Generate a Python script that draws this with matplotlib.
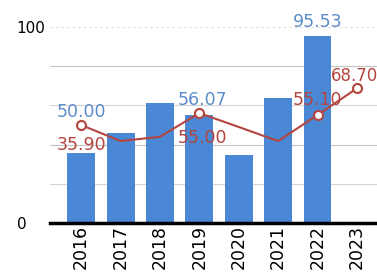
import matplotlib
matplotlib.use("Agg")
import matplotlib.pyplot as plt

years = ["2016", "2017", "2018", "2019", "2020", "2021", "2022", "2023"]
bar_values = [35.90, 45.9, 61.2, 55.00, 34.7, 63.8, 95.53, None]
line_values = [50.00, 41.8, 44.0, 56.07, 49.0, 41.8, 55.10, 68.70]
marker_idx = [0, 3, 6, 7]

# labels as printed: (index, text, colour key)
labels = [
    (0, "50.00", "blue"), (0, "35.90", "red"),
    (3, "56.07", "blue"), (3, "55.00", "red"),
    (6, "95.53", "blue"), (6, "55.10", "red"),
    (7, "68.70", "red"),
]

BAR = "#4a87d4"
BLUE_TXT = "#5b8ccc"
RED = "#b4453f"

W, H, DPI = 377, 274, 100
fig = plt.figure(figsize=(W / DPI, H / DPI), dpi=DPI)
left, right = 50 / W, 1.0
bottom = (H - 223) / H
top = (H - 3.5) / H
ax = fig.add_axes([left, bottom, right - left, top - bottom])

xs = list(range(len(years)))
for i, v in enumerate(bar_values):
    if v is not None:
        ax.bar(i, v, width=0.71, color=BAR, zorder=2)

ax.plot(xs, line_values, color=RED, lw=1.5, zorder=3)
ax.plot([xs[i] for i in marker_idx], [line_values[i] for i in marker_idx],
        ls="none", marker="o", ms=6.5, mfc="white", mec=RED, mew=1.5, zorder=4)

ax.set_xlim(-0.79, 7.51)
ax.set_ylim(0, 112)

for g, c in [(20, "#d4d4d4"), (40, "#c4c4c4"), (60, "#d4d4d4"), (80, "#c4c4c4")]:
    ax.axhline(g, color=c, lw=0.8, zorder=1)
ax.axhline(100, color="#dddddd", lw=0.8, ls=(0, (2, 3)), zorder=1)
ax.axhline(0, color="black", lw=2.5, zorder=5, clip_on=False)

for s in ax.spines.values():
    s.set_visible(False)

ax.set_xticks(xs)
ax.set_xticklabels(years, rotation=90, fontsize=12.5, va="top", ha="center",
                   fontweight="medium")
ax.tick_params(axis="x", length=0, pad=1.5)
ax.set_yticks([0, 100])
ax.set_yticklabels(["0", "100"], fontsize=11, fontweight="medium", ha="left")
ax.tick_params(axis="y", length=0, pad=24)

# y positions in pixel rows, converted to data units
ypix = {"50.00": 112, "35.90": 145, "56.07": 100, "55.00": 138,
        "95.53": 22, "55.10": 100, "68.70": 76}
xoff = {"50.00": 0.0, "35.90": 0.0, "56.07": 0.07, "55.00": 0.07,
        "95.53": 0.0, "55.10": 0.0, "68.70": 0.0}
for i, txt, col in labels:
    yv = (223 - ypix[txt]) / 1.96
    ha = "center"
    x = i + xoff[txt]
    size = 12.5
    if txt == "68.70":
        ha = "left"
        x = i - 0.66
        size = 12
    ax.text(x, yv, txt, color=BLUE_TXT if col == "blue" else RED,
            fontsize=size, ha=ha, va="center", zorder=6)

fig.savefig("out.png", dpi=DPI)
